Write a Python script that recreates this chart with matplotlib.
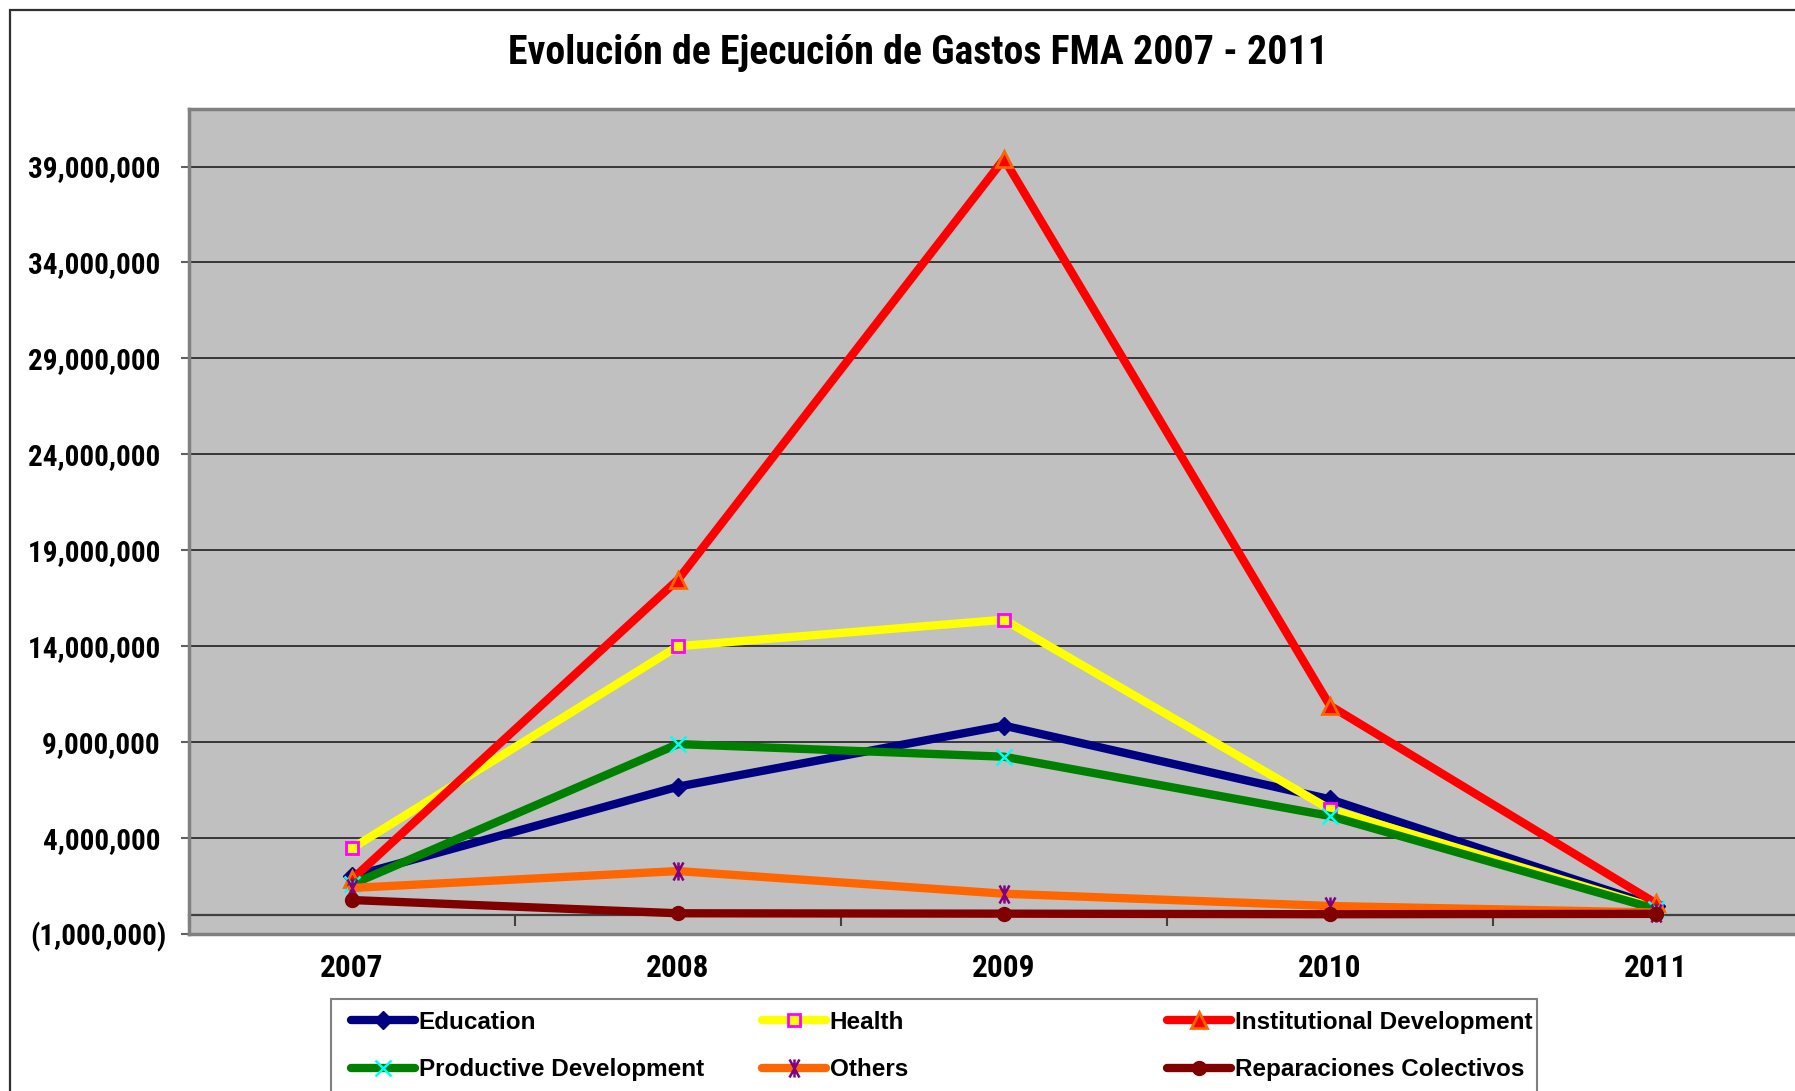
import numpy as np
import matplotlib
matplotlib.use("Agg")
import matplotlib.pyplot as plt
from matplotlib.patches import Rectangle
from matplotlib.path import Path
from matplotlib.ticker import FuncFormatter

years = ['2007', '2008', '2009', '2010', '2011']
education = [2.0e6, 6.68e6, 9.86e6, 6.02e6, 0.45e6]
health = [3.47e6, 14.0e6, 15.38e6, 5.5e6, 0.35e6]
institutional = [1.85e6, 17.47e6, 39.4e6, 10.9e6, 0.6e6]
productive = [1.59e6, 8.9e6, 8.24e6, 5.15e6, 0.3e6]
others = [1.4e6, 2.28e6, 1.1e6, 0.46e6, 0.12e6]
reparaciones = [0.77e6, 0.08e6, 0.06e6, 0.03e6, 0.05e6]
series_names = ['Education', 'Health', 'Institutional Development',
                'Productive Development', 'Others', 'Reparaciones Colectivos']
title = 'Evolución de Ejecución de Gastos FMA 2007 - 2011'

NARROW = ['Roboto Condensed', 'Liberation Sans', 'DejaVu Sans']
REG = ['Liberation Sans', 'DejaVu Sans']
plt.rcParams['font.family'] = NARROW
plt.rcParams['font.weight'] = 'bold'

W, H = 1795, 1091
fig = plt.figure(figsize=(W / 100, H / 100), dpi=100)
fig.patch.set_facecolor('white')

# outer chart-area border (continues past the right/bottom edges)
fig.patches.append(Rectangle((10 / W, -0.2), 1.5, 1.2 - 10 / H, transform=fig.transFigure,
                             fill=False, ec='#303030', lw=1.6))

L, R, T, B = 189, 1819, 109, 934
ax = fig.add_axes([L / W, 1 - B / H, (R - L) / W, (B - T) / H])
ax.set_facecolor('#C0C0C0')
ax.set_xlim(-0.5, len(years) - 0.5)
ylo, yhi = -1e6, 42e6
ax.set_ylim(ylo, yhi)

x = np.arange(len(years))
star = Path([(0, -1), (0, 1), (-0.55, -1), (0.55, 1), (-0.55, 1), (0.55, -1)],
            [Path.MOVETO, Path.LINETO, Path.MOVETO, Path.LINETO, Path.MOVETO, Path.LINETO])

lw = 6
common = dict(lw=lw, solid_joinstyle='miter', solid_capstyle='round')
h_edu, = ax.plot(x, education, color='#000080', marker='D', ms=9, mfc='#000080', mec='#000080',
                 label=series_names[0], **common)
h_hea, = ax.plot(x, health, color='#FFFF00', marker='s', ms=9, mfc='#FFFF00', mec='#FF00FF', mew=2,
                 label=series_names[1], **common)
h_ins, = ax.plot(x, institutional, color='#FF0000', marker='^', ms=11, mfc='#FF0000', mec='#FF6600', mew=2,
                 label=series_names[2], **common)
h_pro, = ax.plot(x, productive, color='#008000', marker='x', ms=11, mec='#00FFFF', mew=1.8,
                 label=series_names[3], **common)
h_oth, = ax.plot(x, others, color='#FF6600', marker=star, ms=13, mec='#800080', mew=1.8,
                 label=series_names[4], **common)
h_rep, = ax.plot(x, reparaciones, color='#800000', marker='o', ms=10, mfc='#800000', mec='#800000',
                 label=series_names[5], **common)

ax.set_yticks(np.arange(ylo, 40e6, 5e6))
def fmt(v, pos):
    v = int(round(v))
    return f'({abs(v):,})' if v < 0 else f'{v:,} '
ax.yaxis.set_major_formatter(FuncFormatter(fmt))
ax.tick_params(axis='y', direction='out', length=6, width=1.5, color='#606060', pad=10,
               labelsize=21)
ax.yaxis.grid(True, color='#202020', lw=1.2)
ax.set_axisbelow(True)

ax.set_xticks(x)
ax.set_xticklabels(years)
ax.tick_params(axis='x', length=0, pad=14, labelsize=22.5)

for s in ax.spines.values():
    s.set_color('#808080')
    s.set_linewidth(2.5)

# category axis crossing at zero, tick marks between categories
loc0 = (0 - ylo) / (yhi - ylo)
sec = ax.secondary_xaxis(loc0)
sec.set_xticks(np.arange(len(years) + 1) - 0.5)
sec.tick_params(axis='x', direction='out', length=8, width=1.5, color='#404040', labelbottom=False)
sec.spines['bottom'].set_color('#404040')
sec.spines['bottom'].set_linewidth(1.6)

fig.text(918 / W, 1 - 53 / H, title, ha='center', va='center', fontsize=28.7, fontweight='bold')

# legend frame and three legend columns
fig.patches.append(Rectangle((331 / W, -0.1), (1537 - 331) / W, 0.1 + 1 - 999 / H,
                             transform=fig.transFigure, fill=False, ec='#808080', lw=1.5))
cols = [([h_edu, h_pro], 351), ([h_hea, h_oth], 762), ([h_ins, h_rep], 1167)]
for hs, xs in cols:
    fig.legend(handles=hs, labels=[h.get_label() for h in hs], loc='upper left',
               bbox_to_anchor=(xs / W, 1 - 1011 / H), bbox_transform=fig.transFigure,
               frameon=False, ncol=1, borderpad=0, borderaxespad=0, handlelength=2.63,
               handletextpad=0.16, labelspacing=1.0, numpoints=1,
               prop=dict(family=REG, weight='bold', size=17.5))

fig.savefig('out.png', dpi=100)
